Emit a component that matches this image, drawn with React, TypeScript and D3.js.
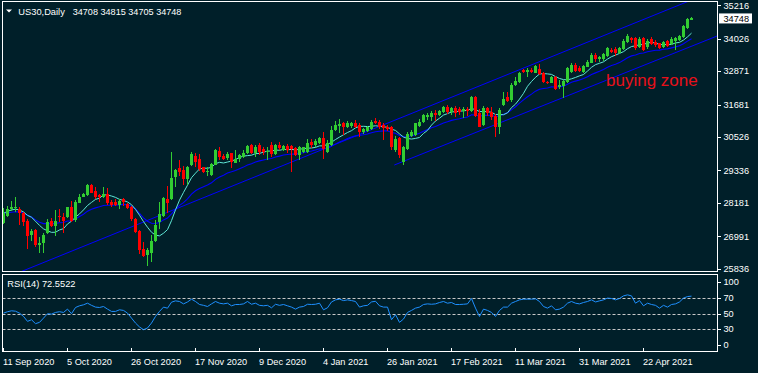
import React from "react";
import * as d3 from "d3";

const W = 758;
const H = 373;

const titleSymbol = "US30,Daily";
const titleQuote = "34708 34815 34705 34748";
const rsiTitle = "RSI(14) 72.5522";
const zoneText = "buying zone";
const lastPrice = 34748;

const opens = [
  27452, 27723, 27951, 27997, 27972, 27808, 27534, 27036, 27214, 26690,
  26761, 27096, 27545, 27356, 27723, 27687, 27666, 28043, 27570, 28186,
  28400, 28449, 28816, 28613, 28460, 28378, 28496, 28221, 28221, 28104,
  28307, 28140, 28022, 27595, 27189, 26526, 26323, 26405, 26833, 27509,
  27712, 28328, 28307, 29090, 29411, 29350, 29019, 29518, 29849, 29731,
  29446, 29279, 29162, 29528, 30038, 29849, 29767, 29945, 29610, 29731,
  29803, 29945, 30230, 29966, 30230, 30109, 30016, 30230, 29920, 30230,
  30062, 30205, 30205, 30123, 29884, 30002, 29991, 30358, 30230, 30301,
  30490, 30002, 30241, 30775, 30917, 31035, 30892, 30917, 31013, 30953,
  30714, 30750, 30800, 31106, 31070, 30953, 30892, 30871, 30062, 30479,
  29646, 30087, 30561, 30597, 30917, 31070, 31227, 31248, 31369, 31309,
  31426, 31604, 31426, 31547, 31512, 31462, 31512, 31462, 31939, 31369,
  30953, 31547, 31426, 31273, 30871, 31665, 31939, 31843, 32377, 32495,
  32911, 32851, 32911, 32815, 32936, 32815, 32495, 32459, 32673, 32317,
  32342, 32495, 32851, 33089, 32972, 32851, 33029, 33171, 33445, 33292,
  33292, 33410, 33623, 33648, 33527, 33648, 33919, 34040, 34040, 33720,
  34040, 33720, 34005, 33919, 33862, 33741, 33955, 33837, 33955, 33980,
  34076, 34396, 34708,
];

const highs = [
  27986, 28068, 28246, 28378, 28022, 27865, 27595, 27239, 27239, 26975,
  27118, 27616, 27630, 27926, 27972, 27808, 28043, 28257, 28282, 28496,
  28542, 28852, 28852, 28734, 28496, 28734, 28699, 28282, 28307, 28328,
  28343, 28186, 28068, 27630, 27214, 26797, 26562, 27036, 27570, 28221,
  28400, 28781, 30002, 29375, 29706, 29493, 29493, 30002, 29966, 29920,
  29468, 29446, 29610, 30087, 30159, 29920, 29991, 29966, 30062, 29920,
  30062, 30230, 30276, 30241, 30301, 30180, 30159, 30358, 30265, 30358,
  30241, 30276, 30241, 30159, 30205, 30180, 30444, 30465, 30444, 30536,
  30714, 30419, 30917, 31106, 31156, 31070, 31106, 31060, 31131, 31013,
  30835, 30917, 31131, 31191, 31131, 31013, 30953, 30917, 30561, 30536,
  30205, 30703, 30775, 31035, 31156, 31344, 31369, 31462, 31487, 31487,
  31629, 31654, 31604, 31629, 31604, 31604, 31604, 31985, 31985, 31512,
  31629, 31604, 31583, 31344, 31547, 32139, 32139, 32438, 32673, 32851,
  32936, 32972, 32972, 33089, 33125, 32851, 32530, 32698, 32698, 32555,
  32555, 33029, 33150, 33150, 33054, 33089, 33267, 33527, 33506, 33410,
  33527, 33720, 33684, 33720, 33741, 34005, 34183, 34076, 34076, 34076,
  34076, 34005, 34076, 33980, 33883, 33955, 33980, 34076, 34076, 34158,
  34514, 34752, 34815,
];

const lows = [
  27427, 27687, 27901, 27865, 27392, 27356, 26548, 26833, 26598, 26405,
  26405, 27071, 27310, 27000, 27499, 27118, 27630, 27499, 27509, 28164,
  28378, 28424, 28521, 28328, 28221, 28343, 28115, 28043, 28068, 27972,
  28068, 27951, 27545, 27118, 26359, 26242, 25942, 26085, 26797, 27239,
  27687, 27808, 28282, 28734, 29137, 28816, 28816, 29493, 29446, 29325,
  29233, 29137, 29137, 29518, 29706, 29706, 29706, 29411, 29589, 29646,
  29778, 29920, 29920, 29824, 29884, 29884, 29706, 29824, 29884, 30062,
  30038, 29945, 29290, 29849, 29706, 29966, 29966, 30123, 30159, 30276,
  29731, 29966, 30205, 30750, 30657, 30597, 30835, 30835, 30835, 30536,
  30632, 30714, 30775, 30988, 30800, 30419, 30750, 30062, 30002, 29767,
  29528, 30062, 30515, 30561, 30871, 31035, 31131, 31106, 31106, 31273,
  31391, 31344, 31309, 31227, 31309, 31191, 31273, 31426, 31248, 30871,
  30917, 31273, 31131, 30515, 30632, 31629, 31782, 31782, 32342, 32459,
  32815, 32673, 32794, 32794, 32733, 32438, 32413, 32438, 32199, 32224,
  31904, 32459, 32794, 32851, 32851, 32815, 33007, 33150, 33207, 33207,
  33242, 33385, 33506, 33410, 33481, 33623, 33883, 33862, 33623, 33684,
  33599, 33648, 33802, 33741, 33648, 33684, 33720, 33802, 33623, 33955,
  34040, 34361, 34705,
];

const closes = [
  27808, 27951, 28022, 28043, 27808, 27509, 27011, 27189, 26680, 26761,
  27036, 27499, 27356, 27545, 27666, 27545, 28022, 27545, 28211, 28400,
  28496, 28816, 28542, 28400, 28378, 28496, 28164, 28104, 28104, 28257,
  28221, 27986, 27595, 27153, 26501, 26288, 26501, 26833, 27392, 27783,
  28343, 28186, 29055, 29350, 29279, 29030, 29446, 29920, 29646, 29375,
  29290, 29315, 29564, 30062, 29824, 29731, 29920, 29646, 29731, 29884,
  29966, 30205, 29945, 30159, 30002, 30002, 30027, 29909, 30241, 30134,
  30205, 30062, 30087, 29884, 30159, 30159, 30301, 30230, 30372, 30490,
  30087, 30301, 30775, 30942, 30988, 30892, 31013, 31013, 30892, 30714,
  30800, 30871, 31070, 31035, 30871, 30835, 30800, 30159, 30444, 29884,
  30159, 30632, 30714, 31013, 31070, 31309, 31309, 31391, 31320, 31441,
  31604, 31426, 31547, 31391, 31426, 31512, 31462, 31960, 31273, 30892,
  31547, 31369, 31227, 30892, 31487, 31868, 31818, 32377, 32530, 32815,
  32851, 32911, 32851, 33054, 32769, 32495, 32438, 32673, 32224, 32377,
  32530, 32972, 33079, 32886, 32886, 33054, 33207, 33445, 33292, 33364,
  33481, 33684, 33563, 33506, 33684, 33955, 34122, 33980, 33684, 34005,
  33623, 33955, 33837, 33802, 33684, 33919, 33766, 34005, 34040, 34122,
  34478, 34717, 34748,
];

const rsiValues = [
  50.5, 52.3, 53.5, 53, 50.5, 46.2, 39.8, 41.9, 36.8, 38.5,
  44, 49.7, 49.2, 51.4, 52.3, 51.4, 55.7, 49.7, 57.8, 60,
  61.3, 63.4, 60.6, 58.3, 57.8, 59.1, 55.7, 52.7, 52.7, 54.8,
  54, 50.5, 44, 37.6, 32.5, 29, 31.2, 37.6, 46.2, 52.7,
  58.3, 56.9, 64.7, 66.4, 65.6, 62.5, 65, 68.6, 65.6, 61.7,
  60.6, 59.1, 62.5, 65.6, 63.4, 62.5, 63.4, 60, 61.7, 61.7,
  62.5, 65.6, 62, 63.4, 60.6, 60, 60.6, 57.4, 62, 60.6,
  61.7, 60, 58.3, 55.7, 58.3, 59.1, 62, 61.7, 62, 63.4,
  54.8, 57.4, 65, 67.7, 68.6, 66.8, 67.7, 66.8, 65.6, 58.3,
  60, 60.6, 65, 65.9, 60, 58.3, 58.3, 41.9, 48.4, 38.5,
  42.8, 51.4, 54, 57, 58.3, 61.7, 62.5, 62, 62.5, 64.3,
  65.6, 63.4, 64.3, 61.7, 61.7, 62, 62.5, 69.5, 57, 46.2,
  55.7, 54, 51.4, 46.2, 54, 58.3, 58.3, 63.4, 65.6, 67.7,
  68.6, 68.6, 68.6, 69, 65.6, 59.1, 57, 60, 54.8, 55.7,
  58.3, 63.4, 65.6, 63.4, 62.5, 64.3, 65.6, 67.7, 65, 66.4,
  67.7, 70, 69.5, 67.7, 69.5, 72.9, 74.2, 72.9, 63.4, 66.8,
  60, 63.4, 61.7, 60.6, 57, 60.6, 58.3, 61.7, 62.5, 65,
  70, 72, 72.55,
];

const dateLabels = [
  "11 Sep 2020", "5 Oct 2020", "26 Oct 2020", "17 Nov 2020", "9 Dec 2020",
  "4 Jan 2021", "26 Jan 2021", "17 Feb 2021", "11 Mar 2021", "31 Mar 2021", "22 Apr 2021",
];
const dateLabelBars = [0, 16, 32, 48, 64, 80, 96, 112, 128, 144, 160];

const priceTicks = [35216, 34026, 32871, 31681, 30526, 29336, 28181, 26991, 25836];
const rsiTicks = [100, 70, 50, 30, 0];
const rsiLevels = [70, 50, 30];

// trend line anchors: [bar index, price]
const upperTrend = [[5.4, 25790], [170.2, 35300]];
const lowerTrend = [[97.7, 29528], [178.4, 34122]];

const fastPeriod = 8;
const slowPeriod = 18;

const BG = "#001f29";
const FG = "#ffffff";
const UP = "#32cd32";
const DOWN = "#ff0000";
const FONT = "'Liberation Sans', Arial, sans-serif";

function sma(v: number[], p: number) {
  return v.map((_, i) => {
    const s = v.slice(Math.max(0, i - p + 1), i + 1);
    return d3.mean(s) as number;
  });
}
function ema(v: number[], p: number) {
  const a = 2 / (p + 1);
  const out: number[] = [];
  v.forEach((c, i) => out.push(i === 0 ? c : out[i - 1] + a * (c - out[i - 1])));
  return out;
}

export default function App() {
  const x = d3.scaleLinear().domain([0, 1]).range([3.5, 7.5]);
  const y = d3.scaleLinear().domain([25836, 35216]).range([268.7, 5.3]);
  const yR = d3.scaleLinear().domain([0, 100]).range([352, 275]);

  const fast = sma(closes, fastPeriod);
  const slow = ema(closes, slowPeriod);
  const line = d3.line<number>().x((_, i) => x(i)).y((d) => y(d));
  const rsiLine = d3.line<number>().x((_, i) => x(i)).y((d) => yR(d));

  const trend = (pts: number[][], from: number, to: number) => {
    const [a, b] = pts;
    const k = (b[1] - a[1]) / (b[0] - a[0]);
    const p = (i: number) => a[1] + k * (i - a[0]);
    return `M${x(from)},${y(p(from))}L${x(to)},${y(p(to))}`;
  };

  const mainL = 2.5, mainT = 1.5, mainR = 717.5, mainB = 271.5;
  const rsiT = 274.5, rsiB = 351.5;

  return (
    <svg
      width={W}
      height={H}
      style={{ position: "absolute", left: 0, top: 0, display: "block" }}
      fontFamily={FONT}
    >
      <defs>
        <clipPath id="mainClip">
          <rect x={mainL} y={mainT} width={mainR - mainL} height={mainB - mainT} />
        </clipPath>
        <clipPath id="rsiClip">
          <rect x={mainL} y={rsiT} width={mainR - mainL} height={rsiB - rsiT} />
        </clipPath>
      </defs>
      <rect x={0} y={0} width={W} height={H} fill={BG} />

      {/* main panel */}
      <g clipPath="url(#mainClip)">
        <path d={trend(upperTrend, -10, 185)} stroke="#0000ff" strokeWidth={1} fill="none" />
        <path d={trend(lowerTrend, lowerTrend[0][0], 185)} stroke="#0000ff" strokeWidth={1} fill="none" />
        <path d={line(slow) || ""} stroke="#0000ff" strokeWidth={1.1} fill="none" />
        <path d={line(fast) || ""} stroke="#5fe6d6" strokeWidth={1} fill="none" />
        {closes.map((c, i) => {
          const o = opens[i];
          const col = c >= o ? UP : DOWN;
          const top = Math.round(y(Math.max(o, c)));
          const bot = Math.round(y(Math.min(o, c)));
          return (
            <g key={i}>
              <line
                x1={x(i)} x2={x(i)}
                y1={Math.round(y(highs[i]))} y2={Math.round(y(lows[i]))}
                stroke={col} strokeWidth={1} shapeRendering="crispEdges"
              />
              <rect
                x={x(i) - 1.5} y={top} width={3} height={Math.max(1, bot - top)}
                fill={col} shapeRendering="crispEdges"
              />
            </g>
          );
        })}
        <text x={606} y={86} fill="#e8101a" fontSize={17}>{zoneText}</text>
      </g>
      <rect x={mainL} y={mainT} width={mainR - mainL} height={mainB - mainT}
        fill="none" stroke={FG} strokeWidth={1} shapeRendering="crispEdges" />

      {/* title */}
      <path d="M6,9.5L12,9.5L9,12.5Z" fill={FG} />
      <text x={18.3} y={14.5} fill={FG} fontSize={9.3}>{titleSymbol}</text>
      <text x={72.7} y={14.5} fill={FG} fontSize={9.1}>{titleQuote}</text>

      {/* price axis */}
      {priceTicks.map((p) => (
        <g key={p}>
          <line x1={717} x2={721} y1={Math.round(y(p)) + 0.5} y2={Math.round(y(p)) + 0.5} stroke={FG} />
          <text x={723.5} y={y(p) + 3.3} fill={FG} fontSize={9.2}>{p}</text>
        </g>
      ))}
      <rect x={719} y={y(lastPrice) - 5} width={33} height={10} fill={FG} />
      <text x={723.5} y={y(lastPrice) + 3.3} fill="#000" fontSize={9.2}>{lastPrice}</text>

      {/* RSI panel */}
      <g clipPath="url(#rsiClip)">
        {rsiLevels.map((lv) => (
          <line key={lv} x1={mainL} x2={mainR} y1={Math.round(yR(lv)) + 0.5} y2={Math.round(yR(lv)) + 0.5}
            stroke="#c8c8c8" strokeDasharray="3,2" strokeWidth={1} />
        ))}
        <path d={rsiLine(rsiValues) || ""} stroke="#1e90ff" strokeWidth={1} fill="none" />
      </g>
      <rect x={mainL} y={rsiT} width={mainR - mainL} height={rsiB - rsiT}
        fill="none" stroke={FG} strokeWidth={1} shapeRendering="crispEdges" />
      <text x={7.3} y={287.3} fill={FG} fontSize={9.3}>{rsiTitle}</text>
      {rsiTicks.map((v) => {
        const yy = v === 100 ? yR(v) + 6.7 : v === 0 ? yR(v) - 7 : yR(v);
        return (
          <g key={v}>
            <line x1={717} x2={721} y1={Math.round(yy) + 0.5} y2={Math.round(yy) + 0.5} stroke={FG} />
            <text x={723.5} y={yy + 3.3} fill={FG} fontSize={9.2}>{v}</text>
          </g>
        );
      })}

      {/* time axis */}
      {dateLabels.map((lab, k) => {
        const xx = x(dateLabelBars[k]);
        return (
          <g key={lab}>
            <line x1={xx} x2={xx} y1={348} y2={352} stroke={FG} />
            <text x={xx - 0.5} y={365} fill={FG} fontSize={9.2}>{lab}</text>
          </g>
        );
      })}
    </svg>
  );
}
